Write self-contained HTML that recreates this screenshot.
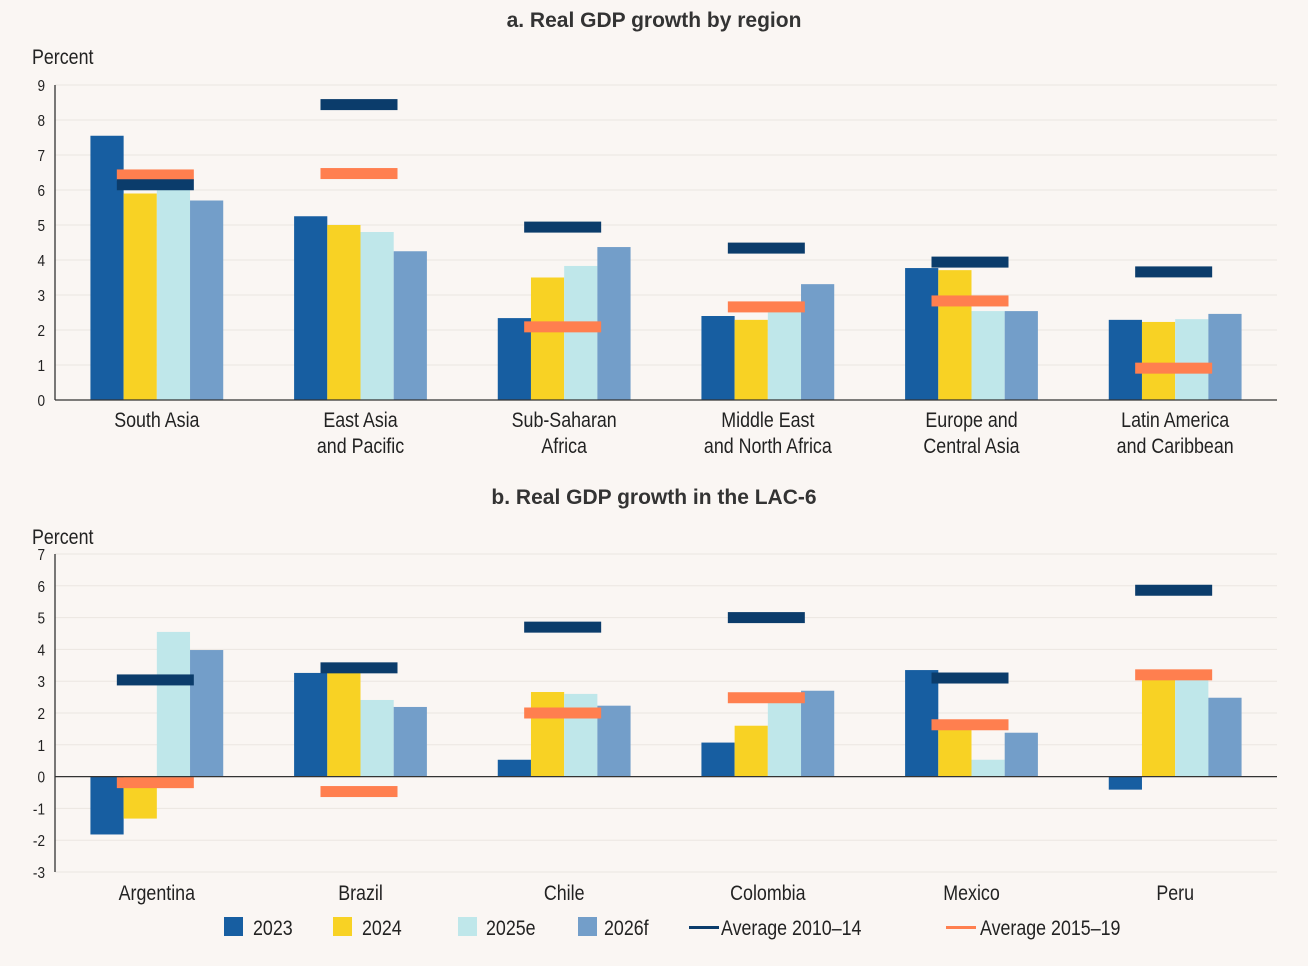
<!DOCTYPE html>
<html><head><meta charset="utf-8">
<style>
body{margin:0;background:#faf6f3;}
svg{display:block;}
text{font-family:"Liberation Sans",sans-serif;fill:#222;}
.t{font-family:"Liberation Sans",sans-serif;font-weight:bold;font-size:21px;fill:#333;}
.tick{font-size:16px;}
.lab{font-size:21px;}
</style></head>
<body>
<svg id="c" width="1308" height="966" xmlns="http://www.w3.org/2000/svg">
<rect width="1308" height="966" fill="#faf6f3"/>
<text class="t" x="654" y="27" text-anchor="middle">a. Real GDP growth by region</text>
<text class="t" x="654" y="504" text-anchor="middle">b. Real GDP growth in the LAC-6</text>
<text class="lab" transform="translate(32,64) scale(0.85,1)">Percent</text>
<text class="lab" transform="translate(32,544) scale(0.85,1)">Percent</text>
<g id="legend">
<rect x="224" y="917" width="19" height="19" fill="#175ea1"/>
<text class="lab" transform="translate(253,935) scale(0.85,1)">2023</text>
<rect x="333" y="917" width="19" height="19" fill="#f8d224"/>
<text class="lab" transform="translate(362,935) scale(0.85,1)">2024</text>
<rect x="458" y="917" width="19" height="19" fill="#bfe7ea"/>
<text class="lab" transform="translate(486,935) scale(0.85,1)">2025e</text>
<rect x="578" y="917" width="19" height="19" fill="#739ec9"/>
<text class="lab" transform="translate(604,935) scale(0.85,1)">2026f</text>
<rect x="689" y="926" width="30" height="3" fill="#0b3c6b"/>
<text class="lab" transform="translate(721,935) scale(0.85,1)">Average 2010–14</text>
<rect x="946" y="926" width="30" height="3" fill="#ff7f4f"/>
<text class="lab" transform="translate(980,935) scale(0.85,1)">Average 2015–19</text>
</g>
</svg>
<script>
const regions=[["South Asia"],["East Asia","and Pacific"],["Sub-Saharan","Africa"],["Middle East","and North Africa"],["Europe and","Central Asia"],["Latin America","and Caribbean"]];
const a2023=[7.55,5.25,2.34,2.4,3.77,2.29];
const a2024=[5.9,5.0,3.5,2.29,3.71,2.23];
const a2025=[6.2,4.8,3.83,2.6,2.54,2.31];
const a2026=[5.7,4.25,4.37,3.31,2.54,2.46];
const aAvg1=[6.15,8.44,4.94,4.34,3.94,3.66];
const aAvg2=[6.43,6.47,2.09,2.66,2.83,0.91];
const aTicks=[0,1,2,3,4,5,6,7,8,9];
const countries=[["Argentina"],["Brazil"],["Chile"],["Colombia"],["Mexico"],["Peru"]];
const b2023=[-1.82,3.26,0.53,1.07,3.35,-0.41];
const b2024=[-1.32,3.3,2.66,1.6,1.5,3.1];
const b2025=[4.55,2.41,2.6,2.4,0.53,3.1];
const b2026=[3.98,2.19,2.23,2.7,1.38,2.48];
const bAvg1=[3.04,3.42,4.7,5.0,3.1,5.86];
const bAvg2=[-0.19,-0.47,2.0,2.48,1.63,3.2];
const bTicks=[-3,-2,-1,0,1,2,3,4,5,6,7];

const NS="http://www.w3.org/2000/svg";
const svg=document.getElementById('c');
function mk(tag,attrs,parent){const e=document.createElementNS(NS,tag);for(const k in attrs)e.setAttribute(k,attrs[k]);(parent||svg).appendChild(e);return e;}
const colors=["#175ea1","#f8d224","#bfe7ea","#739ec9"];
const snames=["2023","2024","2025e","2026f"];

function panel(p,cats,series,avg1,avg2,ticks,x0,x1,yTop,yBot,vMin,vMax,labY){
  const g=mk('g',{});
  
  
  const y=v=>yBot-(v-vMin)/(vMax-vMin)*(yBot-yTop);
  const band=(x1-x0)/cats.length;
  const cx=i=>x0+band*(i+0.5);
  ticks.forEach(t=>{
    const l=mk('line',{x1:x0,x2:x1,y1:y(t),y2:y(t),stroke:'#ebe6e1','stroke-width':1},g);
    
    
    const tx=mk('text',{transform:'translate('+(x0-10)+','+(y(t)+6)+') scale(0.85,1)','text-anchor':'end',class:'tick'},g);
    
    
    tx.textContent=t;
  });
  const bw=33.2;
  series.forEach((s,si)=>{
    s.forEach((v,i)=>{
      const bx=cx(i)-2*bw+si*bw;
      const r=mk('rect',{x:bx,y:Math.min(y(v),y(0)),width:bw,height:Math.abs(y(v)-y(0)),fill:colors[si]},g);
      
      
    });
  });
  [[avg2,'#ff7f4f','avg-2015-19'],[avg1,'#0b3c6b','avg-2010-14']].forEach(([arr,c,n])=>{
    arr.forEach((v,i)=>{
      const r=mk('rect',{x:cx(i)-40,y:y(v)-5.5,width:77,height:11,fill:c},g);
      
      
    });
  });
  const ya=mk('line',{x1:x0,x2:x0,y1:yTop,y2:yBot,stroke:'#333','stroke-width':1.3},g);
  
  
  const xa=mk('line',{x1:x0,x2:x1,y1:y(0),y2:y(0),stroke:'#333','stroke-width':1.3},g);
  
  
  cats.forEach((c,i)=>{
    c.forEach((ln,j)=>{
      const t=mk('text',{transform:'translate('+cx(i)+','+(labY+j*26)+') scale(0.85,1)','text-anchor':'middle',class:'lab'},g);
      
      
      t.textContent=ln;
    });
  });
}
panel('panel-a',regions,[a2023,a2024,a2025,a2026],aAvg1,aAvg2,aTicks,55,1277,85,400,0,9,427);
panel('panel-b',countries,[b2023,b2024,b2025,b2026],bAvg1,bAvg2,bTicks,55,1277,554,872,-3,7,900);
</script>
</body></html>
